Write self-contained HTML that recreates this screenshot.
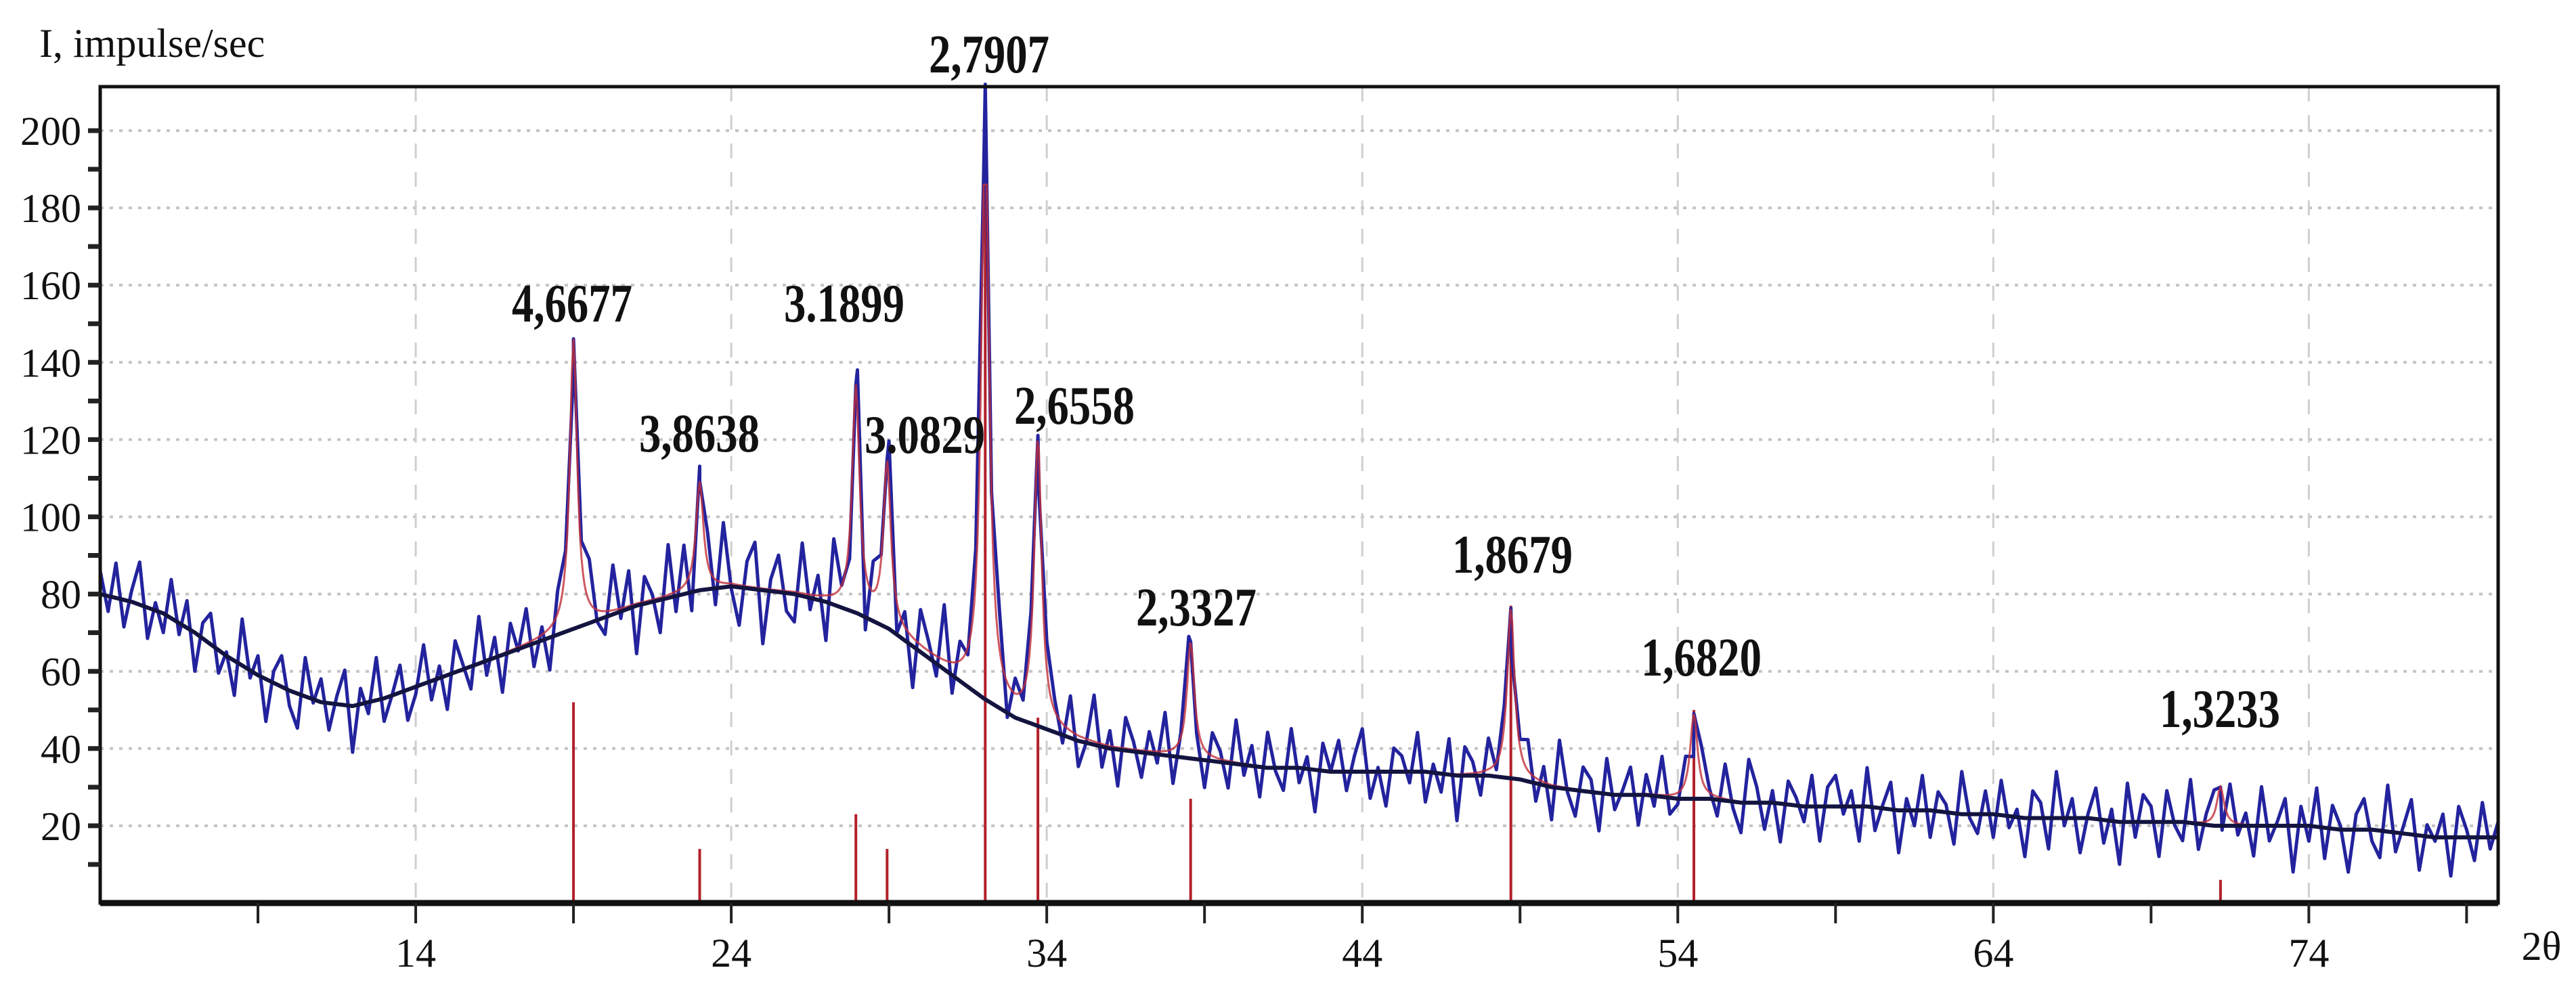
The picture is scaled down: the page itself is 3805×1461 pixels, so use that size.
<!DOCTYPE html>
<html><head><meta charset="utf-8"><title>XRD pattern</title>
<style>html,body{margin:0;padding:0;background:#fff}svg{display:block}</style></head>
<body>
<svg id="chart" width="3805" height="1461" viewBox="0 0 3805 1461" xmlns="http://www.w3.org/2000/svg" font-family="'Liberation Serif', serif">
<rect x="0" y="0" width="3805" height="1461" fill="#fff"/>
<g id="grid"></g>
<g id="series"></g>
<g id="axes"></g>
<g id="labels"></g>
<text x="58" y="84" font-size="60" fill="#111">I, impulse/sec</text>
<text x="3754" y="1418" font-size="60" fill="#111" text-anchor="middle">2θ</text>
</svg>
<script>
const xTicks = [14, 24, 34, 44, 54, 64, 74];
const yTicks = [20, 40, 60, 80, 100, 120, 140, 160, 180, 200];
const bgAngles = [4,5,6,7,8,9,10,11,12,13,14,15,16,17,18,19,20,21,22,23,24,25,26,27,28,29,30,31,32,33,34,35,36,37,38,39,40,41,42,43,44,45,46,47,48,49,50,51,52,53,54,55,56,57,58,59,60,61,62,63,64,65,66,67,68,69,70,71,72,73,74,75,76,77,78,79,80];
const bgValues = [80,78,75,70,64,59,55,52,51,53,56,59,62,65,68,71,74,77,79,81,82,81,80,78,75,71,65,59,53,48,45,42,40,39,38,37,36,35,35,34,34,34,34,33,33,32,30,29,28,28,27,27,26,26,25,25,25,24,24,23,23,22,22,22,21,21,21,20,20,20,20,19,19,18,17,17,17];
const noise = [6,-4,9,-7,3,11,-8,2,-5,10,-3,7,-10,4,8,-6,1,-9,12,-2,
5,-11,3,8,-4,-9,10,-1,6,-7,2,9,-12,4,-3,11,-6,0,7,-8,
-2,10,-5,3,-9,8,1,-6,12,-4,5,-10,7,-1,9,-7,2,-11,6,3,
-8,4,11,-3,-6,9,-2,7,-10,5,1,-7,10,-4,8,-9,3,6,-5,12,
-1,-8,5,9,-11,2,7,-4,-6,10,-3,4,-9,11,0,-5,8,-12,6,1,
9,-6,3,-10,7,2,-4,11,-8,5,-2,8,-7,1,10,-9,4,-3,6,-11,
7,3,-5,9,-8,-1,12,-6,4,-10,8,2,-7,5,-3,10,-9,1,6,-4,
-10,6,2,-7,11,-3,5,-8,9,-1,-6,10,-4,3,-11,7,0,8,-5,4,
11,-7,1,-9,6,4,-3,10,-8,2,-5,9,-12,7,3,-6,8,-2,5,-10,
2,8,-6,4,-9,12,-1,-7,6,3,-10,9,-4,1,7,-8,5,-3,10,-5,
-3,6,-11,8,1,-5,9,-2,-8,11,4,-7,3,-10,6,2,-4,8,-9,5,
8,-2,4,-9,10,-6,1,7,-11,3,-4,9,-7,5,2,-8,11,-1,-5,6,
-6,9,-3,2,-10,7,4,-8,12,-2,5,-9,1,8,-6,3,-11,10,-4,7,
4,-9,8,-1,-5,11,-7,2,6,-10,9,-3,3,-8,10,-4,1,7,-12,5,
-4,10,-8,6,1,-11,4,8,-3,-7,12,-5,2,9,-9,3,-1,6,-10,8,
2,-6,9,-3,4];
const peakAngles = [19.0, 23.0, 27.95, 28.94, 32.05, 33.72, 38.56, 48.71, 54.51, 71.2];
const peakHeights = [75, 28, 58, 42, 160, 74, 30, 44, 22, 10];
const stickHeights = [52, 14, 23, 14, 186, 48, 27, 77, 50, 6];
const peakLabels = ["4,6677","3,8638","3.1899","3.0829","2,7907","2,6558","2,3327","1,8679","1,6820","1,3233"];
const labelX = [845, 1033, 1247, 1366, 1461, 1587, 1767, 2234, 2513, 3279];
const labelY = [447, 639, 447, 641, 79, 598, 896, 818, 970, 1046];
const labelW = [178, 178, 178, 178, 178, 178, 178, 178, 178, 178];

const X0 = 148, X1 = 3690, T0 = 4, T1 = 80;
const Y0 = 1334, YK = 5.705, YTOP = 128;
const xs = t => X0 + (t - T0) * (X1 - X0) / (T1 - T0);
const ys = v => Y0 - v * YK;
const NS = 'http://www.w3.org/2000/svg';
function mk(tag, attrs, parent){const e=document.createElementNS(NS,tag);for(const k in attrs)e.setAttribute(k,attrs[k]);parent.appendChild(e);return e;}
function bg(t){
  if (t <= bgAngles[0]) return bgValues[0];
  for (let i=1;i<bgAngles.length;i++){ if (t<=bgAngles[i]){const a=bgAngles[i-1],b=bgAngles[i];const f=(t-a)/(b-a);return bgValues[i-1]*(1-f)+bgValues[i]*f;} }
  return bgValues[bgValues.length-1];
}
function peaks(t){let s=0;for(let i=0;i<peakAngles.length;i++){const d=(t-peakAngles[i])/0.14;s+=peakHeights[i]/(1+d*d);}return s;}

const grid = document.getElementById('grid');
yTicks.forEach(v=>{
  const l = mk('line',{x1:X0,x2:X1,y1:ys(v),y2:ys(v),stroke:'#c4c4c4','stroke-width':4,'stroke-dasharray':'5 9'},grid);
  
  
});
xTicks.forEach(t=>{
  const l = mk('line',{x1:xs(t),x2:xs(t),y1:YTOP,y2:Y0,stroke:'#cfcfcf','stroke-width':3,'stroke-dasharray':'22 20'},grid);
  
  
});

const series = document.getElementById('series');
peakAngles.forEach((t,i)=>{
  const l = mk('line',{x1:xs(t),x2:xs(t),y1:Y0,y2:ys(stickHeights[i]),stroke:'#b3202a','stroke-width':4},series);
  
  
});
let pts=[];
noise.forEach((n,i)=>{const t=T0+i*0.25; if(t<=T1) pts.push([t, bg(t)+n*(t>20&&t<31?1.3:1)+peaks(t)]);});
peakAngles.forEach(t=>pts.push([t, bg(t)+peaks(t)]));
pts.sort((a,b)=>a[0]-b[0]);
const obs = mk('polyline',{points:pts.map(p=>xs(p[0]).toFixed(1)+','+ys(Math.min(p[1],212)).toFixed(1)).join(' '),fill:'none',stroke:'#23239e','stroke-width':5,'stroke-linejoin':'round'},series);


let fp=[];for(let t=T0;t<=T1+1e-9;t+=0.05){fp.push(xs(t).toFixed(1)+','+ys(Math.min(bg(t)+peaks(t),186)).toFixed(1));}
const fit = mk('polyline',{points:fp.join(' '),fill:'none',stroke:'#c0303a','stroke-width':3,opacity:0.8},series);


let bp=[];for(let t=T0;t<=T1+1e-9;t+=0.25){bp.push(xs(t).toFixed(1)+','+ys(bg(t)).toFixed(1));}
const bgl = mk('polyline',{points:bp.join(' '),fill:'none',stroke:'#141440','stroke-width':6,'stroke-linejoin':'round'},series);



const axes = document.getElementById('axes');
const frame = mk('rect',{x:X0,y:YTOP,width:X1-X0,height:Y0-YTOP,fill:'none',stroke:'#111','stroke-width':5},axes);


const xa = mk('line',{x1:X0,x2:X1,y1:Y0,y2:Y0,stroke:'#111','stroke-width':9},axes);


for(let t=9;t<=79;t+=5){
  const l=mk('line',{x1:xs(t),x2:xs(t),y1:Y0,y2:Y0+30,stroke:'#222','stroke-width':4},axes);
  
  
}
xTicks.forEach(t=>{
  const tx=mk('text',{x:xs(t),y:1428,'font-size':60,'text-anchor':'middle',fill:'#111'},axes);
  tx.textContent=t;
  
  
});
for(let v=10;v<=200;v+=10){
  const l=mk('line',{x1:X0-18,x2:X0,y1:ys(v),y2:ys(v),stroke:'#222','stroke-width':7},axes);
  
  
}
yTicks.forEach(v=>{
  const tx=mk('text',{x:120,y:ys(v)+21,'font-size':60,'text-anchor':'end',fill:'#111'},axes);
  tx.textContent=v;
  
  
});

const labels = document.getElementById('labels');
peakLabels.forEach((s,i)=>{
  const tx=mk('text',{x:labelX[i]-labelW[i]/2,y:labelY[i]+28,'font-size':80,'font-weight':'bold',fill:'#111',textLength:labelW[i],lengthAdjust:'spacingAndGlyphs'},labels);
  tx.textContent=s;
  
  
});
</script>
</body></html>
